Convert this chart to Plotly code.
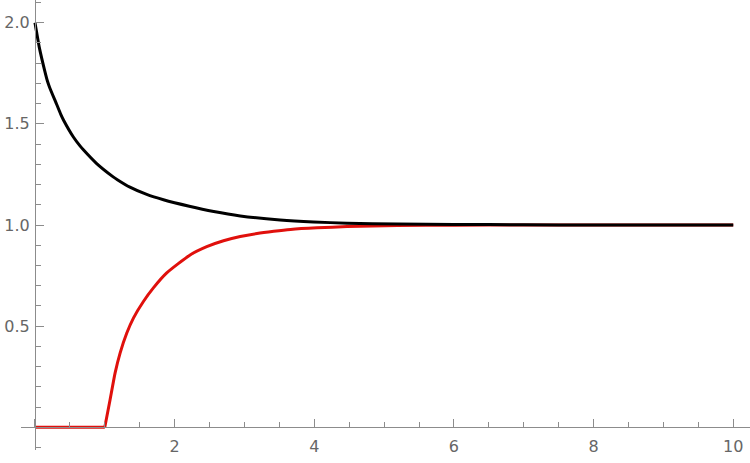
import plotly.graph_objects as go

# black curve
black_x = [0, 0.025, 0.062, 0.14, 0.177, 0.21, 0.31, 0.368, 0.41, 0.55, 0.645, 0.69, 0.88, 1.12, 1.18,
           1.36, 1.6, 1.84, 2.21, 2.56, 2.94, 3.51, 3.99, 4.47, 5.19, 6.0, 7.0, 8.0, 9.0, 10.0]
black_y = [2.0, 1.95, 1.878, 1.762, 1.713, 1.68, 1.597, 1.548, 1.518, 1.435, 1.391, 1.373, 1.305, 1.238, 1.224,
           1.187, 1.151, 1.125, 1.093, 1.067, 1.045, 1.025, 1.015, 1.009, 1.005, 1.003, 1.001, 1.0, 1.0, 1.0]

# red curve: flat part, then the rise after x = 1
red_flat_x = [0, 1.0]
red_flat_y = [0, 0]
red_x = [1.0, 1.075, 1.147, 1.219, 1.315, 1.41, 1.553, 1.696, 1.887, 2.222, 2.46, 2.70,
         2.94, 3.18, 3.42, 3.66, 4.04, 4.47, 5.19, 6.0, 7.0, 8.0, 10.0]
red_y = [0, 0.135, 0.268, 0.367, 0.466, 0.540, 0.622, 0.689, 0.763, 0.852, 0.893, 0.922,
         0.943, 0.958, 0.969, 0.978, 0.986, 0.992, 0.997, 0.999, 1.0, 1.0, 1.0]

x_ticks = [0, 2, 4, 6, 8, 10]
x_labels = ['', '2', '4', '6', '8', '10']
y_ticks = [0, 0.5, 1.0, 1.5, 2.0]
y_labels = ['', '0.5', '1.0', '1.5', '2.0']

x_range = [-0.2, 10.24]
y_range = [-0.112, 2.112]

axis_col = '#8c8c8c'
red = '#e0100c'
font = dict(family='DejaVu Sans', size=16, color='#666666')

fig = go.Figure()
fig.add_trace(go.Scatter(x=red_flat_x, y=red_flat_y, mode='lines',
                         line=dict(color=red, width=3)))
fig.add_trace(go.Scatter(x=red_x, y=red_y, mode='lines',
                         line=dict(color=red, width=3, shape='spline', smoothing=0.5)))
fig.add_trace(go.Scatter(x=black_x, y=black_y, mode='lines',
                         line=dict(color='#000000', width=3, shape='spline', smoothing=0.5)))

fig.update_layout(
    width=750, height=463,
    margin=dict(l=21, r=0, t=0, b=13),
    plot_bgcolor='white', paper_bgcolor='white',
    showlegend=False,
    font=font,
    xaxis=dict(
        range=x_range, showgrid=False, zeroline=False,
        showline=True, linecolor=axis_col, linewidth=1,
        anchor='free', position=(0 - y_range[0]) / (y_range[1] - y_range[0]),
        tickmode='array', tickvals=x_ticks, ticktext=x_labels,
        ticks='inside', ticklen=8, tickwidth=1, tickcolor=axis_col,
        ticklabelstandoff=4,
        minor=dict(tickmode='linear', tick0=0, dtick=0.5, ticks='inside',
                   ticklen=5, tickwidth=1, tickcolor=axis_col),
        automargin=False,
    ),
    yaxis=dict(
        range=y_range, showgrid=False, zeroline=False,
        showline=True, linecolor=axis_col, linewidth=1,
        anchor='free', position=(0 - x_range[0]) / (x_range[1] - x_range[0]),
        tickmode='array', tickvals=y_ticks, ticktext=y_labels,
        ticks='inside', ticklen=8, tickwidth=1, tickcolor=axis_col,
        ticklabelstandoff=2,
        minor=dict(tickmode='linear', tick0=0, dtick=0.1, ticks='inside',
                   ticklen=5, tickwidth=1, tickcolor=axis_col),
        automargin=False,
    ),
)

# page body has a default margin that shifts the figure
fig.write_html("out.html", config={'displayModeBar': False},
               post_script="document.body.style.margin='0px';")
